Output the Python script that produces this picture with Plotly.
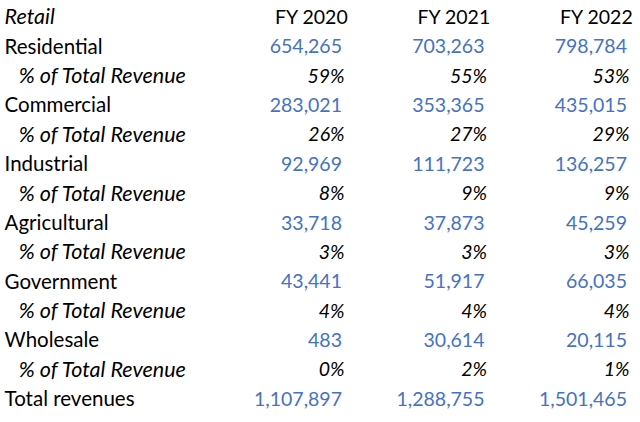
import plotly.graph_objects as go

years = ["FY 2020", "FY 2021", "FY 2022"]
header_label = "Retail"
segments = ["Residential", "Commercial", "Industrial", "Agricultural", "Government", "Wholesale"]
pct_label = "% of Total Revenue"
total_label = "Total revenues"
residential = [654265, 703263, 798784]
residential_pct = [59, 55, 53]
commercial = [283021, 353365, 435015]
commercial_pct = [26, 27, 29]
industrial = [92969, 111723, 136257]
industrial_pct = [8, 9, 9]
agricultural = [33718, 37873, 45259]
agricultural_pct = [3, 3, 3]
government = [43441, 51917, 66035]
government_pct = [4, 4, 4]
wholesale = [483, 30614, 20115]
wholesale_pct = [0, 2, 1]
total_revenues = [1107897, 1288755, 1501465]

BLUE = "#4472C4"
BLACK = "#000000"
FONT = "Lato"
LABEL_SIZE = 20.5
ITALIC_LABEL_SIZE = 21.5
VALUE_SIZE = 19.5
HEADER_SIZE = 19.5

# layout constants (column positions in column-index units)
LABEL_X = -1.368
INDENT = 0.1
HEADER_SHIFT = 0.04
PCT_SHIFT = 0.018

series = [
    (residential, residential_pct),
    (commercial, commercial_pct),
    (industrial, industrial_pct),
    (agricultural, agricultural_pct),
    (government, government_pct),
    (wholesale, wholesale_pct),
]

rows = []  # (label, italic_label, indent, values_text, value_kind)
rows.append((header_label, True, False, years, "header"))
for name, (vals, pcts) in zip(segments, series):
    rows.append((name, False, False, [f"{v:,}" for v in vals], "num"))
    rows.append((pct_label, True, True, [f"{p}%" for p in pcts], "pct"))
rows.append((total_label, False, False, [f"{v:,}" for v in total_revenues], "num"))

fig = go.Figure()

# label column (upright and italic separately)
for want_italic, size in [(False, LABEL_SIZE), (True, ITALIC_LABEL_SIZE)]:
    lx, ly, lt = [], [], []
    for i, (lab, ital, ind, _, _) in enumerate(rows):
        if ital != want_italic:
            continue
        lx.append(LABEL_X + (INDENT if ind else 0))
        ly.append(i)
        lt.append(f"<i>{lab}</i>" if ital else lab)
    fig.add_trace(go.Scatter(
        x=lx, y=ly, text=lt, mode="text",
        textposition="middle right",
        textfont=dict(family=FONT, size=size, color=BLACK),
        hoverinfo="skip", showlegend=False, cliponaxis=False,
    ))

# value columns
for kind, color, shift, ital, size in [("header", BLACK, HEADER_SHIFT, False, HEADER_SIZE),
                                       ("num", BLUE, 0.0, False, VALUE_SIZE),
                                       ("pct", BLACK, PCT_SHIFT, True, VALUE_SIZE)]:
    xs, ys, ts = [], [], []
    for i, (_, _, _, vals, k) in enumerate(rows):
        if k != kind:
            continue
        for j, t in enumerate(vals):
            xs.append(j + 1 + shift)
            ys.append(i)
            ts.append(f"<i>{t}</i>" if ital else t)
    fig.add_trace(go.Scatter(
        x=xs, y=ys, text=ts, mode="text",
        textposition="middle left",
        textfont=dict(family=FONT, size=size, color=color),
        hoverinfo="skip", showlegend=False, cliponaxis=False,
    ))

px_per_col = 142.5
x_left = 1 - 342 / px_per_col
x_right = x_left + 640 / px_per_col
row_h = 29.385
y_top = -19 / row_h
y_bot = y_top + 422 / row_h

fig.update_layout(
    width=640,
    height=422,
    margin=dict(l=0, r=0, t=0, b=0),
    paper_bgcolor="white",
    plot_bgcolor="white",
    xaxis=dict(range=[x_left, x_right], visible=False, fixedrange=True),
    yaxis=dict(range=[y_bot, y_top], visible=False, fixedrange=True),
)
fig.write_html(
    "out.html",
    config={"displayModeBar": False},
    post_script="document.body.style.margin='0';",
)
